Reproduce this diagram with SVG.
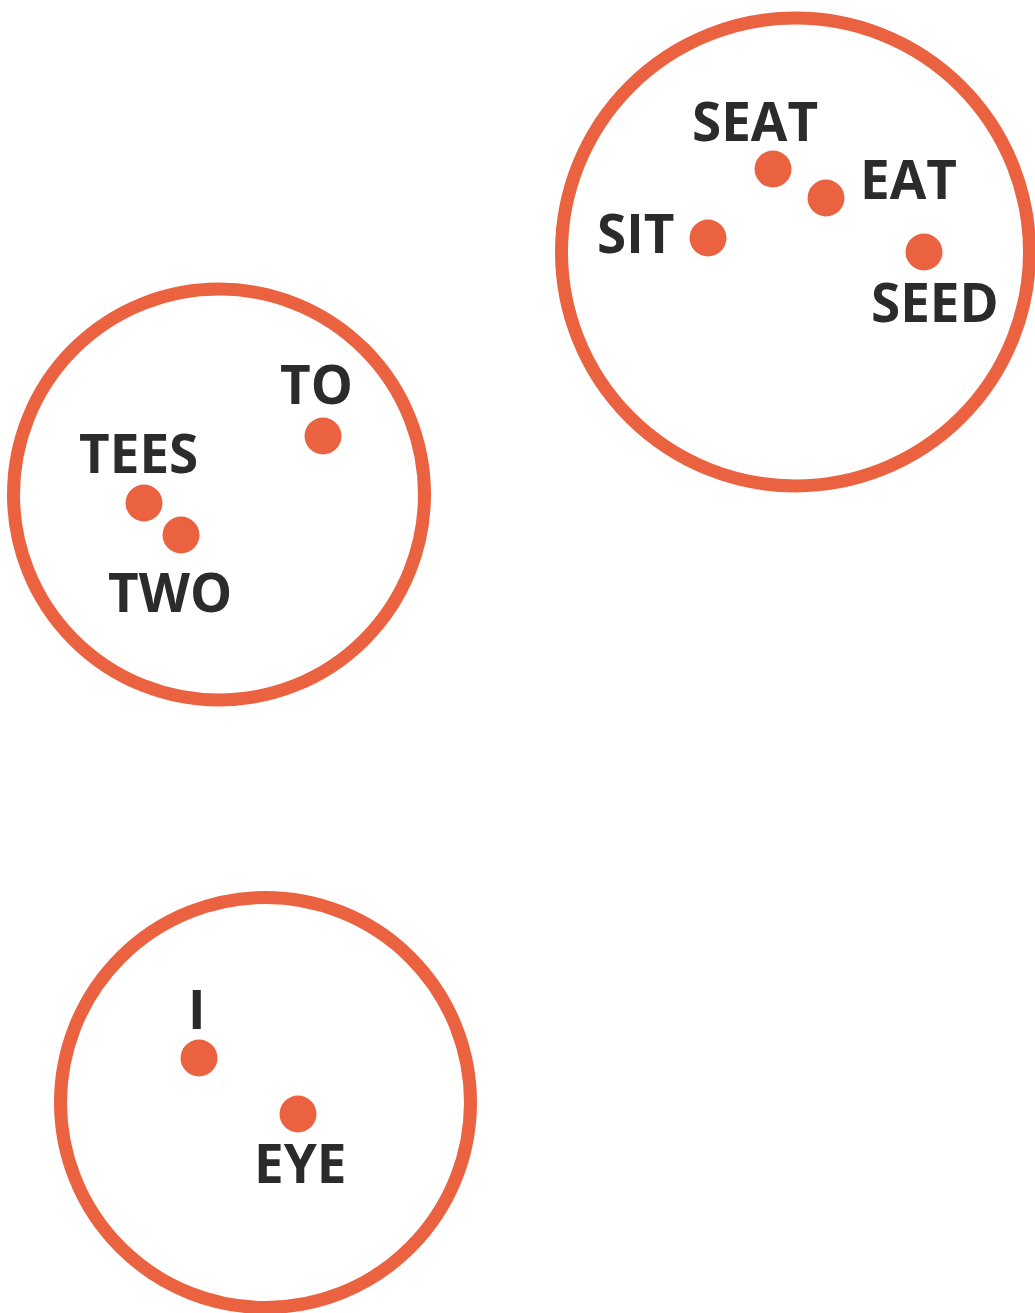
<svg xmlns="http://www.w3.org/2000/svg" width="1035" height="1313" viewBox="0 0 1035 1313">
<style>
.ring{fill:none;stroke:#EB6241;stroke-width:13}
.dot{fill:#EB6241}
.lbl{font-family:"Open Sans","Liberation Sans",sans-serif;font-weight:700;font-size:53px;fill:#2b2b2b}
</style>
<rect width="1035" height="1313" fill="#fff"/>
<g id="cluster-s">
<circle class="ring" cx="795.5" cy="252" r="234"/>
<g id="seat"><circle class="dot" cx="773" cy="169" r="18.5"/><text class="lbl" x="692" y="141">SEAT</text></g>
<g id="eat"><circle class="dot" cx="826" cy="198" r="18.5"/><text class="lbl" x="860" y="199">EAT</text></g>
<g id="sit"><circle class="dot" cx="708" cy="238" r="18.5"/><text class="lbl" x="597" y="253">SIT</text></g>
<g id="seed"><circle class="dot" cx="924" cy="252" r="18.5"/><text class="lbl" x="871" y="322">SEED</text></g>
</g>
<g id="cluster-t">
<circle class="ring" cx="219" cy="494.5" r="205.5"/>
<g id="to"><circle class="dot" cx="323" cy="436" r="18.5"/><text class="lbl" x="280" y="404">TO</text></g>
<g id="tees"><circle class="dot" cx="144" cy="503" r="18.5"/><text class="lbl" x="79" y="473">TEES</text></g>
<g id="two"><circle class="dot" cx="181" cy="535" r="18.5"/><text class="lbl" x="108" y="612">TWO</text></g>
</g>
<g id="cluster-i">
<circle class="ring" cx="265.5" cy="1102.5" r="205"/>
<g id="i"><circle class="dot" cx="199" cy="1058" r="18.5"/><text class="lbl" x="188" y="1029">I</text></g>
<g id="eye"><circle class="dot" cx="298" cy="1114" r="18.5"/><text class="lbl" x="254" y="1183">EYE</text></g>
</g>
<g id="connectors"/>
</svg>
